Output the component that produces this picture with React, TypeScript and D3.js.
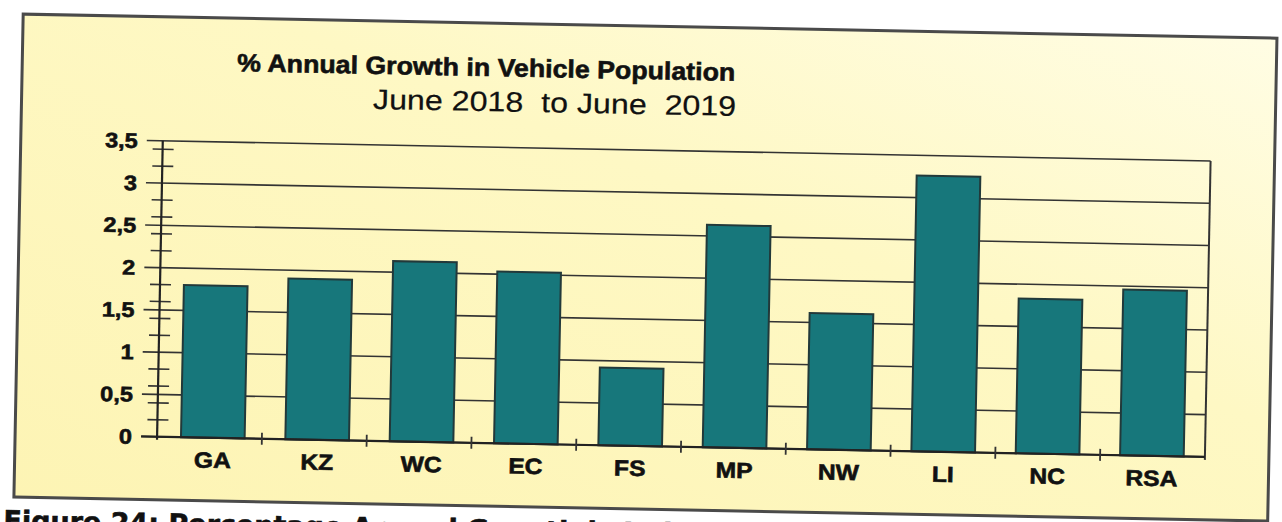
import * as React from "react";
import * as d3 from "d3";

// values
const regions = ["GA", "KZ", "WC", "EC", "FS", "MP", "NW", "LI", "NC", "RSA"];
const growth = [1.8, 1.9, 2.13, 2.03, 0.92, 2.63, 1.61, 3.26, 1.83, 1.96];
const yTicks = [0, 0.5, 1, 1.5, 2, 2.5, 3, 3.5];
const yTickLabels = ["0", "0,5", "1", "1,5", "2", "2,5", "3", "3,5"];
const title = "% Annual Growth in Vehicle Population";
const subtitle = "June 2018  to June  2019";
const caption = "Figure 24: Percentage Annual Growth in Vehicle Population";

const W = 1282,
  H = 522;
const plot = { left: 160, right: 1208, top: 150, bottom: 446 };
const font = "'Liberation Sans', Arial, sans-serif";

// the scan stretches all the lettering sideways a little, and inks it heavier
function Txt(props: {
  x: number;
  y: number;
  sx?: number;
  size: number;
  bold?: boolean;
  anchor?: string;
  dy?: string;
  family?: string;
  children: React.ReactNode;
}) {
  return (
    <g transform={`translate(${props.x},${props.y}) scale(${props.sx ?? 1.12},1)`}>
      <text
        dy={props.dy}
        textAnchor={props.anchor ?? "start"}
        fontFamily={props.family ?? font}
        fontWeight={props.bold ? "bold" : "normal"}
        fontSize={props.size}
        fill="#111"
        stroke="#111"
        strokeWidth={props.bold ? 0.6 : 0.2}
        style={{ whiteSpace: "pre" }}
      >
        {props.children}
      </text>
    </g>
  );
}

export default function App() {
  const x = d3
    .scaleBand<string>()
    .domain(regions)
    .range([plot.left, plot.right])
    .paddingInner(0.39)
    .paddingOuter(0.216)
    .align(0.53);

  const y = d3.scaleLinear().domain([0, 3.5]).range([plot.bottom, plot.top]);

  // minor ticks at the quarter marks
  const minor = y.ticks(14).filter(t => !yTicks.includes(t));
  const catStep = (plot.right - plot.left) / regions.length;
  const catTicks = d3.range(1, regions.length).map(i => plot.left + i * catStep);

  return (
    <svg
      width={W}
      height={H}
      style={{ position: "absolute", left: 0, top: 0, background: "#fff" }}
    >
      <defs>
        <linearGradient id="bg" x1="0" y1="1" x2="1" y2="0">
          <stop offset="0" stopColor="#fdf4b4" />
          <stop offset="0.6" stopColor="#fef8c4" />
          <stop offset="1" stopColor="#fffde4" />
        </linearGradient>
      </defs>
      <g transform="rotate(1.1, 640, 290)">
        {/* outer frame */}
        <rect
          x={18}
          y={26}
          width={1254}
          height={483}
          fill="url(#bg)"
          stroke="#4a4a4a"
          strokeWidth={3}
        />

        <Txt x={482} y={79} sx={1.07} size={25} bold anchor="middle">
          {title}
        </Txt>
        <Txt x={551} y={114} sx={1.15} size={28} anchor="middle">
          {subtitle}
        </Txt>

        {/* gridlines + major ticks */}
        {yTicks.map(t => (
          <line
            key={"g" + t}
            x1={plot.left - 16}
            x2={plot.right}
            y1={y(t)}
            y2={y(t)}
            stroke="#333"
            strokeWidth={1.6}
          />
        ))}
        {minor.map(t => (
          <line
            key={"m" + t}
            x1={plot.left - 10}
            x2={plot.left + 11}
            y1={y(t)}
            y2={y(t)}
            stroke="#333"
            strokeWidth={1.6}
          />
        ))}
        {yTicks.map((t, i) => (
          <Txt key={"l" + t} x={plot.left - 25} y={y(t)} dy="0.36em" size={21} bold anchor="end">
            {yTickLabels[i]}
          </Txt>
        ))}

        {/* bars */}
        {regions.map((r, i) => (
          <rect
            key={r}
            x={x(r)}
            y={y(growth[i])}
            width={x.bandwidth()}
            height={y(0) - y(growth[i])}
            fill="#17777b"
            stroke="#22393a"
            strokeWidth={2}
          />
        ))}

        {/* axes and plot border */}
        <line
          x1={plot.right}
          x2={plot.right}
          y1={plot.top}
          y2={plot.bottom + 3}
          stroke="#333"
          strokeWidth={2}
        />
        <line
          x1={plot.left}
          x2={plot.left}
          y1={plot.top}
          y2={plot.bottom + 3}
          stroke="#222"
          strokeWidth={2.2}
        />
        <line
          x1={plot.left - 16}
          x2={plot.right}
          y1={plot.bottom}
          y2={plot.bottom}
          stroke="#222"
          strokeWidth={2.2}
        />
        {catTicks.map(cx => (
          <line
            key={"c" + cx}
            x1={cx}
            x2={cx}
            y1={plot.bottom - 6}
            y2={plot.bottom + 6}
            stroke="#333"
            strokeWidth={1.8}
          />
        ))}
        {regions.map(r => (
          <Txt
            key={"t" + r}
            x={(x(r) ?? 0) + x.bandwidth() / 2}
            y={476}
            size={22}
            bold
            anchor="middle"
          >
            {r}
          </Txt>
        ))}

        {/* report caption, cut off by the page edge as in the scan */}
        <Txt
          x={8}
          y={542}
          sx={1}
          size={27}
          bold
          family="'DejaVu Sans', Verdana, sans-serif"
        >
          {caption}
        </Txt>
      </g>
    </svg>
  );
}
